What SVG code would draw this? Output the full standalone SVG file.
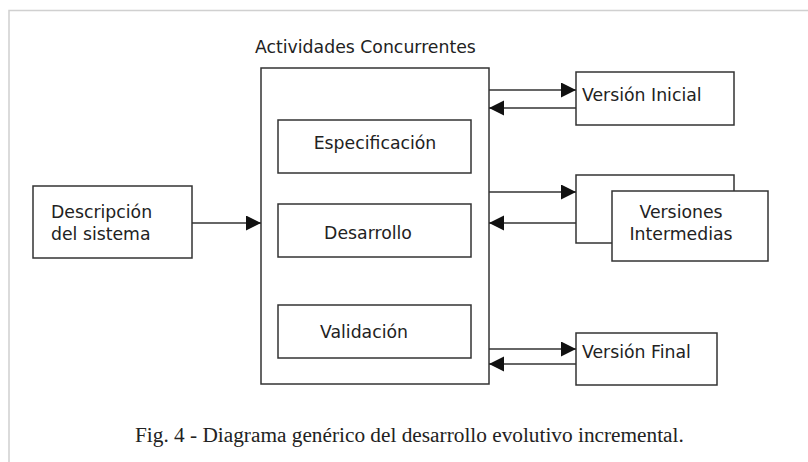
<svg xmlns="http://www.w3.org/2000/svg" width="808" height="462" viewBox="0 0 808 462">
<style>
.box{fill:#fff;stroke:#333;stroke-width:1.5}
.lbl{font-family:"DejaVu Sans",Verdana,sans-serif;font-size:17.3px;fill:#222}
.edge{stroke:#333;stroke-width:1.5;fill:none}
.cap{font-family:"Liberation Serif","Times New Roman",serif;font-size:21.3px;fill:#222}
</style>
<defs>
<marker id="ah" markerUnits="userSpaceOnUse" markerWidth="16" markerHeight="16" refX="15" refY="7.5" orient="auto">
<path d="M0,0 L15,7.5 L0,15 z" fill="#111"/>
</marker>
</defs>
<rect x="0" y="0" width="808" height="462" fill="#fff"/>
<path d="M9,462 V10.5 H808" fill="none" stroke="#d0d0d0" stroke-width="1.5"/>
<g id="title"><text class="lbl" x="255" y="53">Actividades Concurrentes</text></g>
<g id="concurrentes"><rect class="box" x="261" y="68" width="228" height="316"/></g>
<g id="especificacion"><rect class="box" x="278" y="120" width="193" height="53"/><text class="lbl" x="375" y="149" text-anchor="middle">Especificación</text></g>
<g id="desarrollo"><rect class="box" x="278" y="204" width="193" height="53"/><text class="lbl" x="368" y="239" text-anchor="middle">Desarrollo</text></g>
<g id="validacion"><rect class="box" x="278" y="305" width="193" height="53"/><text class="lbl" x="364" y="338" text-anchor="middle">Validación</text></g>
<g id="descripcion"><rect class="box" x="33" y="186" width="159" height="72"/><text class="lbl" x="51" y="218">Descripción</text><text class="lbl" x="51" y="240">del sistema</text></g>
<g id="version-inicial"><rect class="box" x="576" y="72" width="158" height="53"/><text class="lbl" x="582" y="101">Versión Inicial</text></g>
<g id="versiones-intermedias"><rect class="box" x="576" y="175" width="158" height="68"/><rect class="box" x="612" y="191" width="156" height="70"/><text class="lbl" x="681" y="218" text-anchor="middle">Versiones</text><text class="lbl" x="681" y="240" text-anchor="middle">Intermedias</text></g>
<g id="version-final"><rect class="box" x="576" y="333" width="141" height="52"/><text class="lbl" x="582" y="358">Versión Final</text></g>
<g id="connectors">
<line class="edge" x1="192" y1="223" x2="261" y2="223" marker-end="url(#ah)"/>
<line class="edge" x1="489" y1="90" x2="576" y2="90" marker-end="url(#ah)"/>
<line class="edge" x1="576" y1="108" x2="489" y2="108" marker-end="url(#ah)"/>
<line class="edge" x1="489" y1="192" x2="576" y2="192" marker-end="url(#ah)"/>
<line class="edge" x1="576" y1="223" x2="489" y2="223" marker-end="url(#ah)"/>
<line class="edge" x1="489" y1="349" x2="576" y2="349" marker-end="url(#ah)"/>
<line class="edge" x1="576" y1="364" x2="489" y2="364" marker-end="url(#ah)"/>
</g>
<g id="caption"><text class="cap" x="135" y="442">Fig. 4 - Diagrama genérico del desarrollo evolutivo incremental.</text></g>
</svg>
